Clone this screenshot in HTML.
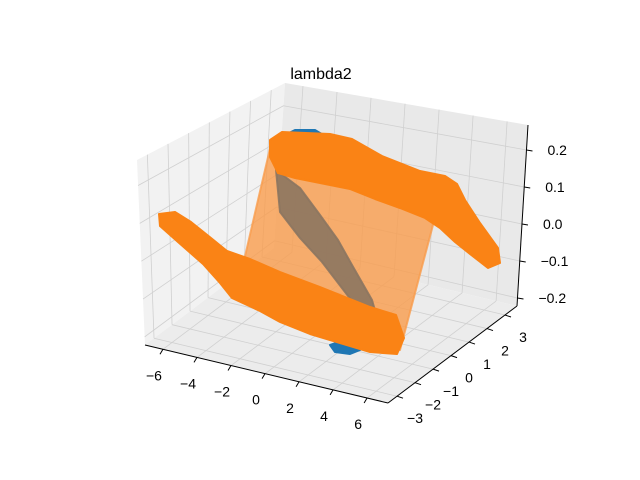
<!DOCTYPE html>
<html><head><meta charset="utf-8"><style>
body{margin:0;background:#fff;}
svg{display:block;font-family:"Liberation Sans","DejaVu Sans",sans-serif;}
</style></head><body>
<svg id="c" width="640" height="480" viewBox="0 0 640 480">
<rect width="640" height="480" fill="#fff"/>
<g id="panes"></g><g id="grid"></g><g id="axes"></g><g id="data"></g>
<text x="321" y="79" font-size="16" text-anchor="middle" fill="#000">lambda2</text>
</svg>
<script>
const xTicks=[-6,-4,-2,0,2,4,6];
const yTicks=[-3,-2,-1,0,1,2,3];
const zTicks=[-0.2,-0.1,0.0,0.1,0.2];
const zLabels=["−0.2","−0.1","0.0","0.1","0.2"];
const NS="http://www.w3.org/2000/svg";
const O=[145,345], EX=[243,58], EY=[129,-97];
function P(u,v,w){const h=185-20*v+16*u*v, dx=-8+19*v;
 return [O[0]+u*EX[0]+v*EY[0]+w*dx, O[1]+u*EX[1]+v*EY[1]-w*h];}
const ux=x=>0.074+(x+6)/12*0.84, vy=y=>0.07+(y+3)/6*0.837, wz=z=>(z+0.2215)/0.489;
function mk(tag,at,parent){const e=document.createElementNS(NS,tag);for(const k in at)e.setAttribute(k,at[k]);document.getElementById(parent).appendChild(e);return e;}
function pts(a){return a.map(p=>p[0].toFixed(1)+","+p[1].toFixed(1)).join(" ");}
let e;
e=mk("polygon",{points:pts([P(0,0,0),P(0,1,0),P(0,1,1),P(0,0,1)]),fill:"#f2f2f2"},"panes");


e=mk("polygon",{points:pts([P(0,1,0),P(1,1,0),P(1,1,1),P(0,1,1)]),fill:"#e9e9e9"},"panes");


e=mk("polygon",{points:pts([P(0,0,0),P(1,0,0),P(1,1,0),P(0,1,0)]),fill:"#ececec"},"panes");


function ln(a,b,parent,col,w){return mk("line",{x1:a[0],y1:a[1],x2:b[0],y2:b[1],stroke:col,"stroke-width":w},parent);}
const gc="#d0d0d0";
xTicks.forEach(x=>{const u=ux(x);
 e=ln(P(u,0,0),P(u,1,0),"grid",gc,0.8);
 e=ln(P(u,1,0),P(u,1,1),"grid",gc,0.8);
 const t=P(u,0,0);
 e=ln(t,[t[0]-3,t[1]+5],"axes","#000",1);
 e=mk("text",{x:t[0]-9,y:t[1]+31,"font-size":14,"text-anchor":"middle",fill:"#000"},"axes");e.textContent=(x<0?"−":"")+Math.abs(x);
 
});
yTicks.forEach(y=>{const v=vy(y);
 e=ln(P(0,v,0),P(1,v,0),"grid",gc,0.8);
 e=ln(P(0,v,0),P(0,v,1),"grid",gc,0.8);
 const t=P(1,v,0);
 e=ln(t,[t[0]+6,t[1]+2],"axes","#000",1);
 e=mk("text",{x:t[0]+18,y:t[1]+27,"font-size":14,"text-anchor":"middle",fill:"#000"},"axes");e.textContent=(y<0?"−":"")+Math.abs(y);
 
});
zTicks.forEach((z,i)=>{const w=wz(z);
 e=ln(P(0,0,w),P(0,1,w),"grid",gc,0.8);
 e=ln(P(0,1,w),P(1,1,w),"grid",gc,0.8);
 const a=P(1,1,w);
 e=ln(a,[a[0]+6,a[1]+1],"axes","#000",1);
 e=mk("text",{x:a[0]+21,y:a[1]+5,"font-size":14,fill:"#000"},"axes");e.textContent=zLabels[i];
 
});
e=ln(P(0,0,0),P(1,0,0),"axes","#000",1);
e=ln(P(1,0,0),P(1,1,0),"axes","#000",1);
e=ln(P(1,1,0),P(1,1,1),"axes","#000",1);
const blueTop=[[285,135],[295,130],[315,130],[325,136],[300,140]];
const blueBot=[[330,345],[345,340],[365,348],[350,354],[335,352]];
const blueLeft=[[195,245],[215,255],[222,270],[205,262]];
const blueRight=[[460,235],[480,245],[490,258],[470,250]];
const sheet=[[272,140],[440,180],[433,225],[400,350],[245,300],[243,265],[258,200]];
const stripe=[[276,170],[300,188],[320,215],[338,240],[352,265],[372,300],[380,328],[368,322],[345,292],[322,262],[300,238],[280,212]];
const topBand=[[270,140],[282,132],[330,134],[352,139],[382,156],[420,171],[445,176],[457,184],[465,200],[480,223],[498,248],[500,263],[488,268],[470,254],[455,242],[440,228],[425,218],[400,208],[375,199],[350,189],[320,183],[295,178],[278,173],[270,157]];
const botBand=[[159,214],[175,212],[191,222],[211,238],[227,251],[250,259],[280,272],[320,287],[345,297],[370,307],[396,315],[404,338],[397,354],[370,352],[340,343],[310,334],[280,322],[260,311],[232,298],[220,283],[203,264],[178,242],[160,226]];
function poly(a,fill,op,name){const p=mk("polygon",{points:pts(a),fill:fill,"fill-opacity":op,"stroke":fill,"stroke-opacity":op,"stroke-width":2,"stroke-linejoin":"round"},"data");
 
 }
poly(blueTop,"#1f77b4",1,"blue-series-top");
poly(blueBot,"#1f77b4",1,"blue-series-bottom");
poly(blueLeft,"#1f77b4",1,"blue-series-left");
poly(blueRight,"#1f77b4",1,"blue-series-right");
poly(sheet,"#f99c4c",0.8,"orange-sheet");
poly(stripe,"#8c7660",0.9,"orange-dense-stripe");
poly(topBand,"#fa8315",1,"orange-top-band");
poly(botBand,"#fa8315",1,"orange-bottom-band");
</script>
</body></html>
